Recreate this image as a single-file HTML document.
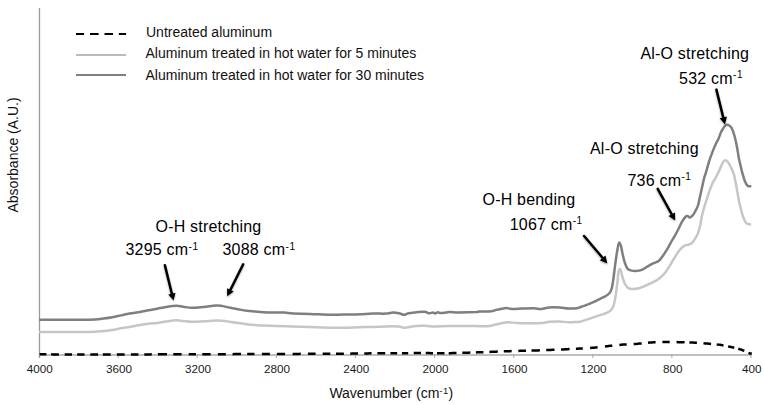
<!DOCTYPE html>
<html><head><meta charset="utf-8"><style>
html,body{margin:0;padding:0;background:#fff;}
svg{display:block;}
</style></head><body>
<svg width="765" height="405" viewBox="0 0 765 405">
<defs><filter id="sh" x="-50%" y="-50%" width="200%" height="200%"><feGaussianBlur in="SourceAlpha" stdDeviation="1.2"/><feOffset dx="0" dy="0.8" result="b"/><feComponentTransfer><feFuncA type="linear" slope="0.35"/></feComponentTransfer><feMerge><feMergeNode/><feMergeNode in="SourceGraphic"/></feMerge></filter></defs>
<rect width="765" height="405" fill="#fff"/>
<line x1="39.5" y1="8" x2="39.5" y2="358" stroke="#9a9a9a" stroke-width="1.3"/>
<line x1="39" y1="354.9" x2="751.5" y2="354.9" stroke="#aaaaaa" stroke-width="1.5"/>
<line x1="118.1" y1="354" x2="118.1" y2="358" stroke="#a8a8a8" stroke-width="1"/>
<line x1="197.2" y1="354" x2="197.2" y2="358" stroke="#a8a8a8" stroke-width="1"/>
<line x1="276.3" y1="354" x2="276.3" y2="358" stroke="#a8a8a8" stroke-width="1"/>
<line x1="355.4" y1="354" x2="355.4" y2="358" stroke="#a8a8a8" stroke-width="1"/>
<line x1="434.6" y1="354" x2="434.6" y2="358" stroke="#a8a8a8" stroke-width="1"/>
<line x1="513.7" y1="354" x2="513.7" y2="358" stroke="#a8a8a8" stroke-width="1"/>
<line x1="592.8" y1="354" x2="592.8" y2="358" stroke="#a8a8a8" stroke-width="1"/>
<line x1="671.9" y1="354" x2="671.9" y2="358" stroke="#a8a8a8" stroke-width="1"/>
<line x1="751.0" y1="354" x2="751.0" y2="358" stroke="#a8a8a8" stroke-width="1"/>
<text x="39.8" y="372.8" font-family="Liberation Sans, sans-serif" font-size="11.7" text-anchor="middle" fill="#1a1a1a">4000</text>
<text x="118.9" y="372.8" font-family="Liberation Sans, sans-serif" font-size="11.7" text-anchor="middle" fill="#1a1a1a">3600</text>
<text x="198.0" y="372.8" font-family="Liberation Sans, sans-serif" font-size="11.7" text-anchor="middle" fill="#1a1a1a">3200</text>
<text x="277.1" y="372.8" font-family="Liberation Sans, sans-serif" font-size="11.7" text-anchor="middle" fill="#1a1a1a">2800</text>
<text x="356.2" y="372.8" font-family="Liberation Sans, sans-serif" font-size="11.7" text-anchor="middle" fill="#1a1a1a">2400</text>
<text x="435.4" y="372.8" font-family="Liberation Sans, sans-serif" font-size="11.7" text-anchor="middle" fill="#1a1a1a">2000</text>
<text x="514.5" y="372.8" font-family="Liberation Sans, sans-serif" font-size="11.7" text-anchor="middle" fill="#1a1a1a">1600</text>
<text x="593.6" y="372.8" font-family="Liberation Sans, sans-serif" font-size="11.7" text-anchor="middle" fill="#1a1a1a">1200</text>
<text x="672.7" y="372.8" font-family="Liberation Sans, sans-serif" font-size="11.7" text-anchor="middle" fill="#1a1a1a">800</text>
<text x="751.8" y="372.8" font-family="Liberation Sans, sans-serif" font-size="11.7" text-anchor="middle" fill="#1a1a1a">400</text>
<path d="M39.00,332.00 C45.83,332.00 70.67,332.03 80.00,332.00 C89.33,331.97 91.07,331.98 95.00,331.80 C98.93,331.62 100.72,331.18 103.60,330.90 C106.48,330.62 109.42,330.53 112.30,330.10 C115.18,329.67 118.03,328.82 120.90,328.30 C123.77,327.78 126.32,327.53 129.50,327.00 C132.68,326.47 136.82,325.63 140.00,325.10 C143.18,324.57 145.72,324.17 148.60,323.80 C151.48,323.43 154.42,323.27 157.30,322.90 C160.18,322.53 162.73,322.03 165.90,321.60 C169.07,321.17 173.42,320.40 176.30,320.30 C179.18,320.20 180.60,320.75 183.20,321.00 C185.80,321.25 188.50,321.75 191.90,321.80 C195.30,321.85 199.63,321.52 203.60,321.30 C207.57,321.08 212.13,320.57 215.70,320.50 C219.27,320.43 222.68,320.68 225.00,320.90 C227.32,321.12 227.40,321.43 229.60,321.80 C231.80,322.17 235.32,322.70 238.20,323.10 C241.08,323.50 244.10,323.88 246.90,324.20 C249.70,324.52 252.32,324.77 255.00,325.00 C257.68,325.23 259.52,325.45 263.00,325.60 C266.48,325.75 270.87,325.73 275.90,325.90 C280.93,326.07 287.52,326.40 293.20,326.60 C298.88,326.80 303.72,326.92 310.00,327.10 C316.28,327.28 324.53,327.60 330.90,327.70 C337.27,327.80 342.52,327.80 348.20,327.70 C353.88,327.60 358.72,327.32 365.00,327.10 C371.28,326.88 380.25,326.50 385.90,326.40 C391.55,326.30 395.87,326.28 398.90,326.50 C401.93,326.72 401.22,327.80 404.10,327.70 C406.98,327.60 412.80,326.23 416.20,325.90 C419.60,325.57 421.87,325.60 424.50,325.70 C427.13,325.80 427.82,326.43 432.00,326.50 C436.18,326.57 442.43,326.20 449.60,326.10 C456.77,326.00 468.72,325.88 475.00,325.90 C481.28,325.92 483.82,326.45 487.30,326.20 C490.78,325.95 492.58,325.07 495.90,324.40 C499.22,323.73 503.60,322.42 507.20,322.20 C510.80,321.98 513.70,322.92 517.50,323.10 C521.30,323.28 526.02,323.30 530.00,323.30 C533.98,323.30 538.20,323.35 541.40,323.10 C544.60,322.85 546.17,322.08 549.20,321.80 C552.23,321.52 556.43,321.32 559.60,321.40 C562.77,321.48 565.32,322.20 568.20,322.30 C571.08,322.40 574.93,322.08 576.90,322.00 C578.87,321.92 578.37,322.20 580.00,321.80 C581.63,321.40 584.48,320.33 586.70,319.60 C588.92,318.87 591.08,318.15 593.30,317.40 C595.52,316.65 597.77,315.85 600.00,315.10 C602.23,314.35 604.87,313.73 606.70,312.90 C608.53,312.07 609.90,311.20 611.00,310.10 C612.10,309.00 612.63,308.05 613.30,306.30 C613.97,304.55 614.47,302.37 615.00,299.60 C615.53,296.83 616.08,292.68 616.50,289.70 C616.92,286.72 617.20,284.45 617.50,281.70 C617.80,278.95 617.97,275.32 618.30,273.20 C618.63,271.08 619.05,269.32 619.50,269.00 C619.95,268.68 620.48,269.90 621.00,271.30 C621.52,272.70 621.98,275.37 622.60,277.40 C623.22,279.43 623.78,281.73 624.70,283.50 C625.62,285.27 626.87,287.08 628.10,288.00 C629.33,288.92 630.30,288.97 632.10,289.00 C633.90,289.03 636.78,288.70 638.90,288.20 C641.02,287.70 642.58,286.91 644.80,286.00 C647.02,285.09 649.73,284.01 652.20,282.72 C654.67,281.43 657.38,280.02 659.60,278.26 C661.82,276.50 663.77,274.32 665.50,272.16 C667.23,270.00 668.52,267.68 670.00,265.30 C671.48,262.92 672.92,260.28 674.40,257.90 C675.88,255.52 677.33,252.97 678.90,251.00 C680.47,249.03 682.17,247.15 683.80,246.10 C685.43,245.05 687.38,245.18 688.70,244.70 C690.02,244.22 690.78,243.95 691.70,243.20 C692.62,242.45 693.17,241.83 694.20,240.20 C695.23,238.57 696.87,235.97 697.90,233.40 C698.93,230.83 699.78,227.43 700.40,224.80 C701.02,222.17 701.12,219.97 701.60,217.60 C702.08,215.23 702.73,212.78 703.30,210.60 C703.87,208.42 704.43,206.37 705.00,204.50 C705.57,202.63 706.13,201.12 706.70,199.40 C707.27,197.68 707.85,195.87 708.40,194.20 C708.95,192.53 709.45,190.88 710.00,189.40 C710.55,187.92 711.15,186.58 711.70,185.30 C712.25,184.02 712.75,182.75 713.30,181.70 C713.85,180.65 714.07,180.75 715.00,179.00 C715.93,177.25 717.90,173.28 718.90,171.20 C719.90,169.12 720.35,167.90 721.00,166.50 C721.65,165.10 722.17,163.82 722.80,162.80 C723.43,161.78 723.97,160.57 724.80,160.40 C725.63,160.23 726.82,160.73 727.80,161.80 C728.78,162.87 729.72,164.82 730.70,166.80 C731.68,168.78 732.90,171.20 733.70,173.70 C734.50,176.20 734.98,179.32 735.50,181.80 C736.02,184.28 736.35,186.12 736.80,188.60 C737.25,191.08 737.75,194.22 738.20,196.70 C738.65,199.18 739.05,201.47 739.50,203.50 C739.95,205.53 740.43,207.08 740.90,208.90 C741.37,210.72 741.73,212.58 742.30,214.40 C742.87,216.22 743.63,218.33 744.30,219.80 C744.97,221.27 745.52,222.48 746.30,223.20 C747.08,223.92 748.20,223.88 749.00,224.10 C749.80,224.32 750.75,224.43 751.10,224.50" fill="none" stroke="#c6c6c6" stroke-width="2.5" stroke-linejoin="round"/>
<path d="M39.00,319.80 C45.83,319.80 70.67,319.85 80.00,319.80 C89.33,319.75 91.07,319.70 95.00,319.50 C98.93,319.30 100.72,318.97 103.60,318.60 C106.48,318.23 109.42,317.83 112.30,317.30 C115.18,316.77 118.03,316.03 120.90,315.40 C123.77,314.77 126.32,314.08 129.50,313.50 C132.68,312.92 136.82,312.45 140.00,311.90 C143.18,311.35 145.72,310.73 148.60,310.20 C151.48,309.67 154.42,309.22 157.30,308.70 C160.18,308.18 162.73,307.58 165.90,307.10 C169.07,306.62 173.42,305.87 176.30,305.80 C179.18,305.73 180.60,306.37 183.20,306.70 C185.80,307.03 188.50,307.77 191.90,307.80 C195.30,307.83 199.63,307.27 203.60,306.90 C207.57,306.53 212.82,305.78 215.70,305.60 C218.58,305.42 218.58,305.47 220.90,305.80 C223.22,306.13 226.72,307.02 229.60,307.60 C232.48,308.18 235.32,308.77 238.20,309.30 C241.08,309.83 244.10,310.43 246.90,310.80 C249.70,311.17 252.32,311.27 255.00,311.50 C257.68,311.73 259.52,312.02 263.00,312.20 C266.48,312.38 272.30,312.53 275.90,312.60 C279.50,312.67 281.72,312.45 284.60,312.60 C287.48,312.75 288.97,313.28 293.20,313.50 C297.43,313.72 303.72,313.68 310.00,313.90 C316.28,314.12 324.53,314.70 330.90,314.80 C337.27,314.90 343.30,314.60 348.20,314.50 C353.10,314.40 356.17,314.35 360.30,314.20 C364.43,314.05 368.73,313.70 373.00,313.60 C377.27,313.50 382.58,313.78 385.90,313.60 C389.22,313.42 390.73,312.57 392.90,312.50 C395.07,312.43 397.03,312.82 398.90,313.20 C400.77,313.58 402.52,314.80 404.10,314.80 C405.68,314.80 406.38,313.62 408.40,313.20 C410.42,312.78 413.52,312.55 416.20,312.30 C418.88,312.05 422.37,311.53 424.50,311.70 C426.63,311.87 427.58,313.15 429.00,313.30 C430.42,313.45 432.00,312.58 433.00,312.60 C434.00,312.62 434.17,313.45 435.00,313.40 C435.83,313.35 437.00,312.35 438.00,312.30 C439.00,312.25 439.07,313.13 441.00,313.10 C442.93,313.07 446.73,312.20 449.60,312.10 C452.47,312.00 453.65,312.50 458.20,312.50 C462.75,312.50 473.50,312.27 476.90,312.10 C480.30,311.93 476.15,311.65 478.60,311.50 C481.05,311.35 488.72,311.47 491.60,311.20 C494.48,310.93 494.45,310.25 495.90,309.90 C497.35,309.55 498.57,309.42 500.30,309.10 C502.03,308.78 504.43,308.03 506.30,308.00 C508.17,307.97 508.90,308.80 511.50,308.90 C514.10,309.00 518.22,308.72 521.90,308.60 C525.58,308.48 530.35,308.12 533.60,308.20 C536.85,308.28 538.80,309.23 541.40,309.10 C544.00,308.97 546.17,307.68 549.20,307.40 C552.23,307.12 556.43,307.22 559.60,307.40 C562.77,307.58 565.32,308.37 568.20,308.50 C571.08,308.63 574.73,308.48 576.90,308.20 C579.07,307.92 579.57,307.35 581.20,306.80 C582.83,306.25 584.68,305.67 586.70,304.90 C588.72,304.13 591.08,303.22 593.30,302.20 C595.52,301.18 597.95,299.82 600.00,298.80 C602.05,297.78 604.03,297.02 605.60,296.10 C607.17,295.18 608.38,294.57 609.40,293.30 C610.42,292.03 611.05,290.80 611.70,288.50 C612.35,286.20 612.72,283.50 613.30,279.50 C613.88,275.50 614.60,268.95 615.20,264.50 C615.80,260.05 616.38,256.00 616.90,252.80 C617.42,249.60 617.87,247.00 618.30,245.30 C618.73,243.60 619.05,242.48 619.50,242.60 C619.95,242.72 620.48,244.08 621.00,246.00 C621.52,247.92 621.98,251.38 622.60,254.10 C623.22,256.82 623.90,259.92 624.70,262.30 C625.50,264.68 626.38,267.05 627.40,268.40 C628.42,269.75 629.38,269.97 630.80,270.40 C632.22,270.83 634.07,271.10 635.90,271.00 C637.73,270.90 639.82,270.58 641.80,269.80 C643.78,269.02 645.82,267.40 647.80,266.30 C649.78,265.20 651.85,264.13 653.70,263.21 C655.55,262.29 657.30,262.12 658.90,260.78 C660.50,259.44 661.83,257.24 663.30,255.17 C664.77,253.10 666.35,250.64 667.70,248.36 C669.05,246.08 670.28,243.46 671.40,241.50 C672.52,239.54 673.27,238.60 674.40,236.60 C675.53,234.60 676.97,231.90 678.20,229.50 C679.43,227.10 680.53,224.37 681.80,222.20 C683.07,220.03 684.80,217.52 685.80,216.50 C686.80,215.48 687.15,215.93 687.80,216.10 C688.45,216.27 688.88,217.62 689.70,217.50 C690.52,217.38 691.92,216.18 692.70,215.40 C693.48,214.62 693.55,214.35 694.40,212.80 C695.25,211.25 696.97,208.33 697.80,206.10 C698.63,203.87 698.85,201.80 699.40,199.40 C699.95,197.00 700.53,194.28 701.10,191.70 C701.67,189.12 702.25,186.32 702.80,183.90 C703.35,181.48 703.80,179.37 704.40,177.20 C705.00,175.03 705.62,173.53 706.40,170.90 C707.18,168.27 708.08,164.57 709.10,161.40 C710.12,158.23 711.37,154.83 712.50,151.90 C713.63,148.97 714.88,146.05 715.90,143.80 C716.92,141.55 717.70,140.43 718.60,138.40 C719.50,136.37 720.52,133.30 721.30,131.60 C722.08,129.90 722.62,129.22 723.30,128.20 C723.98,127.18 724.68,126.07 725.40,125.50 C726.12,124.93 726.82,124.68 727.60,124.80 C728.38,124.92 729.45,125.70 730.10,126.20 C730.75,126.70 730.92,126.68 731.50,127.80 C732.08,128.92 732.90,130.75 733.60,132.90 C734.30,135.05 735.07,137.97 735.70,140.70 C736.33,143.43 736.88,146.43 737.40,149.30 C737.92,152.17 738.30,155.32 738.80,157.90 C739.30,160.48 739.80,162.25 740.40,164.80 C741.00,167.35 741.65,170.47 742.40,173.20 C743.15,175.93 744.05,179.12 744.90,181.20 C745.75,183.28 746.43,184.85 747.50,185.70 C748.57,186.55 750.67,186.20 751.30,186.30" fill="none" stroke="#7f7f7f" stroke-width="2.5" stroke-linejoin="round"/>
<path d="M39.60,354.30 L41.30,354.30 L43.00,354.30 L44.70,354.31 L46.40,354.33 M51.10,354.37 L53.05,354.38 L55.00,354.40 L56.95,354.40 L58.90,354.40 M64.70,354.40 L66.53,354.40 L68.35,354.40 L70.17,354.40 L72.00,354.40 M77.20,354.40 L79.03,354.40 L80.85,354.40 L82.67,354.40 L84.50,354.40 M90.30,354.40 L92.25,354.40 L94.20,354.40 L96.15,354.40 L98.10,354.40 M102.80,354.40 L104.78,354.40 L106.75,354.40 L108.72,354.40 L110.70,354.40 M116.80,354.40 L118.75,354.40 L120.70,354.40 L122.65,354.40 L124.60,354.40 M130.90,354.40 L132.78,354.40 L134.65,354.40 L136.53,354.40 L138.40,354.40 M144.30,354.40 L146.18,354.40 L148.05,354.40 L149.93,354.39 L151.80,354.37 M157.90,354.33 L160.18,354.32 L162.45,354.30 L164.72,354.30 L167.00,354.30 M173.30,354.30 L175.38,354.30 L177.45,354.30 L179.53,354.29 L181.60,354.27 M188.70,354.22 L190.52,354.21 L192.35,354.20 L194.18,354.20 L196.00,354.20 M202.30,354.20 L204.38,354.20 L206.45,354.20 L208.53,354.20 L210.60,354.20 M217.90,354.20 L219.88,354.20 L221.85,354.20 L223.83,354.19 L225.80,354.17 M232.60,354.13 L234.70,354.11 L236.80,354.10 L238.90,354.07 L241.00,354.04 M247.20,353.95 L249.02,353.93 L250.85,353.90 L252.68,353.92 L254.50,353.95 M261.90,354.05 L263.90,354.07 L265.90,354.10 L267.90,354.09 L269.90,354.07 M276.90,354.03 L278.95,354.01 L281.00,354.00 L283.05,353.99 L285.10,353.97 M292.60,353.93 L294.65,353.91 L296.70,353.90 L298.75,353.89 L300.80,353.87 M307.90,353.83 L309.82,353.81 L311.75,353.80 L313.68,353.79 L315.60,353.77 M322.70,353.73 L324.60,353.71 L326.50,353.70 L328.40,353.70 L330.30,353.70 M336.00,353.70 L337.98,353.70 L339.95,353.70 L341.92,353.69 L343.90,353.67 M350.20,353.63 L352.15,353.61 L354.10,353.60 L356.05,353.57 L358.00,353.54 M364.30,353.45 L366.12,353.43 L367.95,353.40 L369.78,353.37 L371.60,353.35 M377.40,353.26 L379.35,353.23 L381.30,353.20 L383.25,353.20 L385.20,353.20 M390.40,353.20 L392.10,353.20 L393.80,353.20 L395.50,353.20 L397.20,353.20 M401.90,353.20 L403.47,353.20 L405.05,353.20 L406.62,353.17 L408.20,353.15 M413.70,353.06 L415.52,353.03 L417.35,353.00 L419.18,353.02 L421.00,353.03 M425.70,353.07 L427.52,353.08 L429.35,353.10 L431.18,353.13 L433.00,353.16 M437.00,353.23 L438.88,353.27 L440.75,353.30 L442.62,353.27 L444.50,353.24 M448.70,353.17 L450.65,353.13 L452.60,353.10 L454.55,353.04 L456.50,352.99 M462.30,352.82 L464.32,352.76 L466.35,352.70 L468.38,352.64 L470.40,352.58 M475.90,352.41 L477.77,352.36 L479.65,352.30 L481.52,352.22 L483.40,352.14 M489.40,351.88 L491.50,351.79 L493.60,351.70 L495.70,351.63 L497.80,351.55 M503.80,351.34 L505.77,351.27 L507.75,351.20 L509.73,351.15 L511.70,351.09 M518.30,350.91 L520.22,350.85 L522.15,350.80 L524.08,350.76 L526.00,350.71 M531.50,350.59 L533.60,350.55 L535.70,350.50 L537.80,350.41 L539.90,350.33 M546.20,350.07 L548.28,349.98 L550.35,349.90 L552.42,349.82 L554.50,349.73 M561.00,349.47 L563.15,349.39 L565.30,349.30 L567.45,349.19 L569.60,349.09 M575.90,348.77 L577.62,348.69 L579.35,348.60 L581.07,348.49 L582.80,348.39 M590.10,347.93 L591.98,347.82 L593.85,347.70 L595.73,347.48 L597.60,347.27 M605.00,346.42 L606.83,346.21 L608.65,346.00 L610.47,345.82 L612.30,345.65 M619.40,344.95 L621.23,344.78 L623.05,344.60 L624.88,344.50 L626.70,344.40 M633.70,344.02 L635.70,343.91 L637.70,343.80 L639.70,343.60 L641.70,343.40 M648.00,342.78 L649.90,342.59 L651.80,342.40 L653.70,342.33 L655.60,342.27 M662.40,342.03 L664.23,341.96 L666.05,341.90 L667.88,341.94 L669.70,341.98 M676.50,342.12 L678.52,342.16 L680.55,342.20 L682.58,342.26 L684.60,342.33 M689.40,342.48 L691.27,342.54 L693.15,342.60 L695.02,342.72 L696.90,342.84 M703.50,343.26 L705.40,343.38 L707.30,343.50 L709.20,343.69 L711.10,343.89 M716.70,344.45 L718.40,344.63 L720.10,344.80 L721.80,345.14 L723.50,345.47 M728.10,346.39 L729.65,346.69 L731.20,347.00 L732.75,347.40 L734.30,347.80 M738.30,348.83 L739.80,349.21 L741.30,349.60 L742.80,350.28 L744.30,350.96 M748.50,352.85 L749.33,353.23 L750.15,353.60 L750.97,353.60 L751.80,353.60 " fill="none" stroke="#000" stroke-width="2.5" stroke-linecap="butt" stroke-linejoin="round"/>
<path d="M76,34 H84.1 M90,34 H98.6 M104.5,34 H113 M118.8,34 H126.1" stroke="#000" stroke-width="2"/>
<line x1="76" y1="55" x2="126" y2="55" stroke="#bbbbbb" stroke-width="2"/>
<line x1="76" y1="75" x2="126" y2="75" stroke="#7f7f7f" stroke-width="2"/>
<text x="146" y="37" font-family="Liberation Sans, sans-serif" font-size="14" fill="#111">Untreated aluminum</text>
<text x="145.5" y="58" font-family="Liberation Sans, sans-serif" font-size="14" fill="#111">Aluminum treated in hot water for 5 minutes</text>
<text x="145.5" y="79.5" font-family="Liberation Sans, sans-serif" font-size="14" fill="#111">Aluminum treated in hot water for 30 minutes</text>
<text transform="translate(17.9,212.5) rotate(-90)" font-family="Liberation Sans, sans-serif" font-size="14" fill="#111">Absorbance (A.U.)</text>
<text x="329.4" y="398" font-family="Liberation Sans, sans-serif" font-size="14" fill="#111">Wavenumber (cm<tspan font-size="9.5" dy="-4.2" letter-spacing="0.4">-1</tspan><tspan dy="4.2">)</tspan></text>
<text x="155.5" y="231.6" font-family="Liberation Sans, sans-serif" font-size="16" letter-spacing="0.2" fill="#000">O-H stretching</text>
<text x="125.5" y="255.2" font-family="Liberation Sans, sans-serif" font-size="16" letter-spacing="0.2" fill="#000">3295 <tspan letter-spacing="0.3">cm</tspan><tspan font-size="10" dy="-5.5" letter-spacing="0.6">-1</tspan></text>
<text x="222.5" y="255.2" font-family="Liberation Sans, sans-serif" font-size="16" letter-spacing="0.2" fill="#000">3088 <tspan letter-spacing="0.3">cm</tspan><tspan font-size="10" dy="-5.5" letter-spacing="0.6">-1</tspan></text>
<text x="482.5" y="205" font-family="Liberation Sans, sans-serif" font-size="16" letter-spacing="0.2" fill="#000">O-H bending</text>
<text x="509.7" y="229.6" font-family="Liberation Sans, sans-serif" font-size="16" letter-spacing="0.2" fill="#000">1067 <tspan letter-spacing="0.3">cm</tspan><tspan font-size="10" dy="-5.5" letter-spacing="0.6">-1</tspan></text>
<text x="590" y="154.0" font-family="Liberation Sans, sans-serif" font-size="16" letter-spacing="0.2" fill="#000">Al-O stretching</text>
<text x="627.5" y="185.6" font-family="Liberation Sans, sans-serif" font-size="16" letter-spacing="0.2" fill="#000">736 <tspan letter-spacing="0.3">cm</tspan><tspan font-size="10" dy="-5.5" letter-spacing="0.6">-1</tspan></text>
<text x="640.4" y="58.8" font-family="Liberation Sans, sans-serif" font-size="16" letter-spacing="0.2" fill="#000">Al-O stretching</text>
<text x="679.1" y="83.6" font-family="Liberation Sans, sans-serif" font-size="16" letter-spacing="0.2" fill="#000">532 <tspan letter-spacing="0.3">cm</tspan><tspan font-size="10" dy="-5.5" letter-spacing="0.6">-1</tspan></text>
<g filter="url(#sh)"><line x1="164.9" y1="265.2" x2="172.2" y2="295.1" stroke="#000" stroke-width="2.5" stroke-linecap="round"/><polygon points="173.6,300.6 168.3,294.5 175.5,292.7" fill="#000"/></g>
<g filter="url(#sh)"><line x1="243.2" y1="264.3" x2="229.7" y2="291.2" stroke="#000" stroke-width="2.5" stroke-linecap="round"/><polygon points="227.2,296.3 227.1,288.2 233.7,291.5" fill="#000"/></g>
<g filter="url(#sh)"><line x1="584.1" y1="236.0" x2="603.6" y2="259.0" stroke="#000" stroke-width="2.5" stroke-linecap="round"/><polygon points="607.3,263.4 599.8,260.3 605.5,255.5" fill="#000"/></g>
<g filter="url(#sh)"><line x1="657.7" y1="188.8" x2="672.4" y2="215.5" stroke="#000" stroke-width="2.5" stroke-linecap="round"/><polygon points="675.2,220.5 668.5,216.0 675.0,212.4" fill="#000"/></g>
<g filter="url(#sh)"><line x1="716.4" y1="89.6" x2="723.6" y2="118.9" stroke="#000" stroke-width="2.5" stroke-linecap="round"/><polygon points="725.0,124.4 719.7,118.3 726.9,116.5" fill="#000"/></g>
</svg>
</body></html>
